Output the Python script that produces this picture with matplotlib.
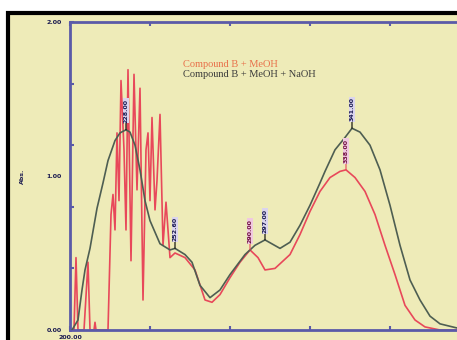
import matplotlib.pyplot as plt
from matplotlib.patches import Rectangle
from matplotlib.transforms import blended_transform_factory

# NaOH curve (dark)
wl_naoh = [201, 204, 206, 207.5, 210, 213.5, 216.5, 219, 222.5, 225, 228, 230, 232.5, 235,
           237.5, 240, 245, 250, 252.5, 257.5, 261, 265, 270, 275, 280, 287.5, 292.5, 297.5,
           305, 310, 315, 320, 325, 327.5, 332.5, 337.5, 341, 345, 350, 355, 360, 365, 370,
           375, 380, 385, 393.5, 400]
abs_naoh = [0.00, 0.065, 0.26, 0.39, 0.53, 0.79, 0.955, 1.10, 1.23, 1.28, 1.30, 1.285, 1.20, 1.04,
            0.84, 0.71, 0.56, 0.52, 0.53, 0.49, 0.44, 0.29, 0.21, 0.26, 0.36, 0.49, 0.55, 0.585,
            0.53, 0.57, 0.68, 0.81, 0.955, 1.03, 1.17, 1.25, 1.31, 1.285, 1.20, 1.04, 0.81, 0.55, 0.325,
            0.195, 0.09, 0.04, 0.013, 0.01]

# MeOH curve (red)
wl_meoh = [200, 202, 203, 204, 207, 209, 210, 212, 212.5, 213, 219, 220.5, 221.5, 222.5, 223.5,
           224.5, 225.5, 227, 228, 229, 230.5, 232, 233.5, 235, 236.5, 238, 239, 240, 241, 242.5,
           243.5, 245, 246.5, 248, 250, 252.5, 257.5, 262.5, 267.5, 271, 275, 280, 285, 290, 294,
           297.5, 302.5, 310, 315, 320, 325, 330, 335, 338, 342.5, 347.5, 352.5, 357.5, 362.5,
           367.5, 372.5, 377.5, 385, 400]
abs_meoh = [0, 0, 0.47, 0, 0, 0.44, 0, 0, 0.05, 0, 0, 0.75, 0.88, 0.65, 1.28,
            0.84, 1.62, 1.17, 0.65, 1.69, 0.45, 1.66, 0.91, 1.57, 0.195, 1.17, 1.28, 0.84, 1.38, 0.78,
            0.97, 1.40, 0.55, 0.83, 0.47, 0.50, 0.47, 0.39, 0.195, 0.18, 0.23, 0.34, 0.44, 0.52, 0.47,
            0.39, 0.40, 0.49, 0.62, 0.77, 0.90, 0.99, 1.03, 1.04, 0.99, 0.90, 0.75, 0.55, 0.36,
            0.16, 0.065, 0.02, 0.0, 0.0]

# peak labels: (wavelength, absorbance, text)
peaks_naoh = [(228, 1.30, "228.00"), (252.5, 0.53, "252.60"), (297.5, 0.585, "297.00"), (341, 1.31, "341.00")]
peaks_meoh = [(290, 0.52, "290.00"), (338, 1.04, "338.00")]

bg = '#EEEBB8'
blue = '#5A5AA8'
navy = '#1A1A50'
dark = '#4E5E52'
red = '#E8485A'

fig = plt.figure(figsize=(4.57, 3.40), dpi=100)
fig.patch.set_facecolor('white')
fig.patches.append(Rectangle((0.0175, -0.05), 1.05, 1.013, transform=fig.transFigure,
                             facecolor=bg, edgecolor='black', lw=3, zorder=-5))

ax = fig.add_axes([70 / 457, 10 / 340, 400 / 457, 308 / 340])
ax.set_facecolor(bg)
ax.plot(wl_naoh, abs_naoh, color=dark, lw=1.2, zorder=3)
ax.plot(wl_meoh, abs_meoh, color=red, lw=1.2, zorder=2)
ax.set_xlim(200, 400)
ax.set_ylim(0, 2.0)

for s in ['left', 'top', 'bottom']:
    ax.spines[s].set_color(blue)
    ax.spines[s].set_linewidth(2)
ax.spines['right'].set_visible(False)
ax.set_xticks([200, 240, 280, 320, 360, 400])
ax.set_yticks([0, 0.4, 0.8, 1.2, 1.6, 2.0])
ax.tick_params(direction='in', length=3, width=1.5, color=blue, labelleft=False, labelbottom=False,
               top=True)

tr = blended_transform_factory(ax.transAxes, ax.transData)
for v, t in [(0, "0.00"), (1.0, "1.00"), (2.0, "2.00")]:
    ax.text(-0.02, v, t, transform=tr, ha='right', va='center', fontsize=4.5,
            fontweight='bold', color=navy)
ax.text(200, -0.03, "200.00", ha='center', va='top', fontsize=4.5, fontweight='bold',
        color=navy, clip_on=False)
fig.text(22 / 457, 1 - 176 / 340, "Abs.", rotation=90, ha='center', va='center', fontsize=4.5,
         fontweight='bold', color=navy)

ax.text(0.283, 0.855, "Compound B + MeOH", transform=ax.transAxes, fontsize=7.5,
        family='Liberation Serif', color='#E8704A')
ax.text(0.283, 0.822, "Compound B + MeOH + NaOH", transform=ax.transAxes, fontsize=7.5,
        family='Liberation Serif', color='#3A3A3A')

for x, y, t in peaks_naoh:
    ax.annotate(t, (x, y), xytext=(0, 5), textcoords='offset points', rotation=90,
                ha='center', va='bottom', fontsize=4.5, fontweight='bold', color=navy,
                bbox=dict(boxstyle='square,pad=0.1', fc='#DAD4EE', ec='none'),
                arrowprops=dict(arrowstyle='-', color='black', lw=0.8, shrinkA=0, shrinkB=0))
for x, y, t in peaks_meoh:
    ax.annotate(t, (x, y), xytext=(0, 5), textcoords='offset points', rotation=90,
                ha='center', va='bottom', fontsize=4.5, fontweight='bold', color='#701040',
                bbox=dict(boxstyle='square,pad=0.1', fc='#F0C8E0', ec='none'),
                arrowprops=dict(arrowstyle='-', color=red, lw=0.8, shrinkA=0, shrinkB=0))

fig.savefig('out.png', dpi=100)
